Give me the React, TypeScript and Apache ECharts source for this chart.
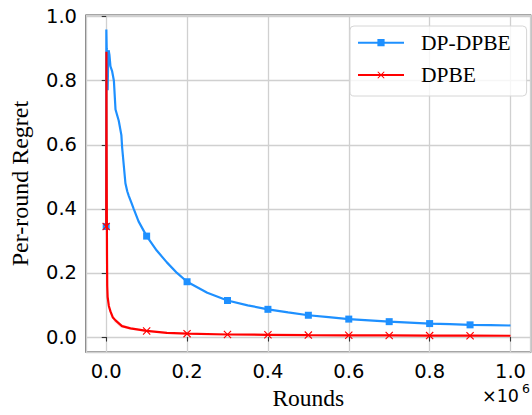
import React, { useEffect, useRef } from "react";
import * as echarts from "echarts";

const seriesNames = ["DP-DPBE", "DPBE"];
const xTickStep = 200000;
const yTickStep = 0.2;

const blueX = [0, 300, 1200, 2300, 3500, 4500, 6000, 8000, 10500, 14500, 19000, 23000, 31000, 37500, 39500, 47500, 52000, 56000, 62000, 68000, 80000, 100000, 125000, 150000, 175000, 200000, 250000, 300000, 350000, 400000, 450000, 500000, 550000, 600000, 650000, 700000, 750000, 800000, 850000, 900000, 950000, 1000000];
const blueY = [0.345, 0.96, 0.9, 0.87, 0.77, 0.84, 0.895, 0.88, 0.845, 0.83, 0.8, 0.71, 0.675, 0.63, 0.59, 0.48, 0.455, 0.44, 0.42, 0.4, 0.361, 0.315, 0.27, 0.233, 0.2, 0.1726, 0.138, 0.114, 0.099, 0.0865, 0.077, 0.068, 0.062, 0.056, 0.052, 0.048, 0.045, 0.042, 0.04, 0.038, 0.037, 0.036];

const redX = [0, 500, 1000, 1500, 2000, 2500, 3500, 6500, 10500, 16000, 23000, 39000, 60000, 100000, 150000, 200000, 300000, 400000, 500000, 600000, 700000, 800000, 900000, 1000000];
const redY = [0.345, 0.89, 0.6, 0.4, 0.25, 0.16, 0.125, 0.097, 0.08, 0.062, 0.052, 0.034, 0.027, 0.019, 0.013, 0.0105, 0.008, 0.007, 0.006, 0.0055, 0.005, 0.0045, 0.0042, 0.004];

const bandX = [2500, 6000, 10000, 20000, 35000, 60000, 100000, 150000];
const bandUpper = [0.15, 0.106, 0.089, 0.06, 0.041, 0.031, 0.022, 0.015];
const bandLower = [0.13, 0.089, 0.072, 0.046, 0.03, 0.023, 0.016, 0.011];

const markerStep = 100000;

const BLUE = "#1e90ff";
const RED = "#ff0000";
const X_PATH =
  "path://M0,1 L1,0 L5,4 L9,0 L10,1 L6,5 L10,9 L9,10 L5,6 L1,10 L0,9 L4,5 Z";

function buildData(xs: number[], ys: number[]) {
  return xs.map((x, i) => {
    const marked = x % markerStep === 0 && x < 1000000;
    return marked ? { value: [x, ys[i]] } : { value: [x, ys[i]], symbol: "none" };
  });
}

export default function App() {
  const ref = useRef<HTMLDivElement>(null);
  useEffect(() => {
    if (!ref.current) return;
    const chart = echarts.init(ref.current, undefined, { renderer: "svg" });
    const tickFont = { fontFamily: "DejaVu Sans", fontSize: 19.5, color: "#000" };
    chart.setOption({
      animation: false,
      backgroundColor: "#fff",
      grid: {
        left: 83.5,
        right: 1.3,
        top: 15,
        bottom: 62.7,
        show: true,
        borderColor: "#333",
        borderWidth: 1.2,
        backgroundColor: "transparent",
      },
      xAxis: {
        type: "value",
        min: -50000,
        max: 1050000,
        minInterval: xTickStep,
        maxInterval: xTickStep,
        axisLine: { show: false },
        axisTick: { show: true, inside: false, length: 4.5, lineStyle: { color: "#333", width: 1.1 } },
        axisLabel: {
          ...tickFont,
          margin: 9,
          showMinLabel: false,
          showMaxLabel: false,
          formatter: (v: number) => (v / 1e6).toFixed(1),
        },
        splitLine: { show: true, lineStyle: { color: "#d0d0d0", width: 1.3 } },
        name: "Rounds",
        nameLocation: "middle",
        nameGap: 33,
        nameTextStyle: { fontFamily: "Liberation Serif", fontSize: 23.5, color: "#000" },
      },
      yAxis: {
        type: "value",
        min: -0.047,
        max: 1.005,
        minInterval: yTickStep,
        maxInterval: yTickStep,
        axisLine: { show: false },
        axisTick: { show: true, inside: false, length: 4.5, lineStyle: { color: "#333", width: 1.1 } },
        axisLabel: {
          ...tickFont,
          margin: 9,
          showMinLabel: false,
          showMaxLabel: false,
          formatter: (v: number) => v.toFixed(1),
        },
        splitLine: { show: true, lineStyle: { color: "#d0d0d0", width: 1.3 } },
        name: "Per-round Regret",
        nameLocation: "middle",
        nameRotate: 90,
        nameGap: 54,
        nameTextStyle: { fontFamily: "Liberation Serif", fontSize: 24, color: "#000" },
      },
      legend: {
        data: seriesNames,
        orient: "vertical",
        left: 350,
        top: 26,
        itemWidth: 46,
        itemHeight: 9,
        itemGap: 10.3,
        padding: [5.7, 16, 10, 7],
        backgroundColor: "rgba(255,255,255,0.8)",
        borderColor: "#d6d6d6",
        borderWidth: 1,
        borderRadius: 4,
        textStyle: {
          fontFamily: "Liberation Serif",
          fontSize: 21.5,
          lineHeight: 22,
          color: "#000",
          padding: [0, 0, 0, 12],
        },
      },
      graphic: [
        {
          type: "text",
          left: 482,
          top: 387,
          style: { text: "×10", fontFamily: "DejaVu Sans", fontSize: 17.5, fill: "#000" },
        },
        {
          type: "text",
          left: 522,
          top: 382,
          style: { text: "6", fontFamily: "DejaVu Sans", fontSize: 12.5, fill: "#000" },
        },
      ],
      series: [
        {
          type: "custom",
          name: "band",
          silent: true,
          data: [0],
          z: 1,
          renderItem: (_params: any, api: any) => {
            const pts: number[][] = [];
            bandX.forEach((x, i) => pts.push(api.coord([x, bandUpper[i]])));
            for (let i = bandX.length - 1; i >= 0; i--) pts.push(api.coord([bandX[i], bandLower[i]]));
            return { type: "polygon", shape: { points: pts }, style: { fill: "rgba(255,90,90,0.16)" } };
          },
        },
        {
          type: "line",
          name: seriesNames[0],
          data: buildData(blueX, blueY),
          symbol: "rect",
          symbolSize: 7,
          showSymbol: true,
          lineStyle: { color: BLUE, width: 2.2 },
          itemStyle: { color: BLUE },
          z: 3,
        },
        {
          type: "line",
          name: seriesNames[1],
          data: buildData(redX, redY),
          symbol: X_PATH,
          symbolSize: 8,
          showSymbol: true,
          lineStyle: { color: RED, width: 2.2 },
          itemStyle: { color: RED },
          z: 4,
        },
      ],
    });
    return () => chart.dispose();
  }, []);
  return (
    <div
      ref={ref}
      style={{ position: "fixed", left: 0, top: 0, width: 532, height: 415, background: "#fff" }}
    />
  );
}
